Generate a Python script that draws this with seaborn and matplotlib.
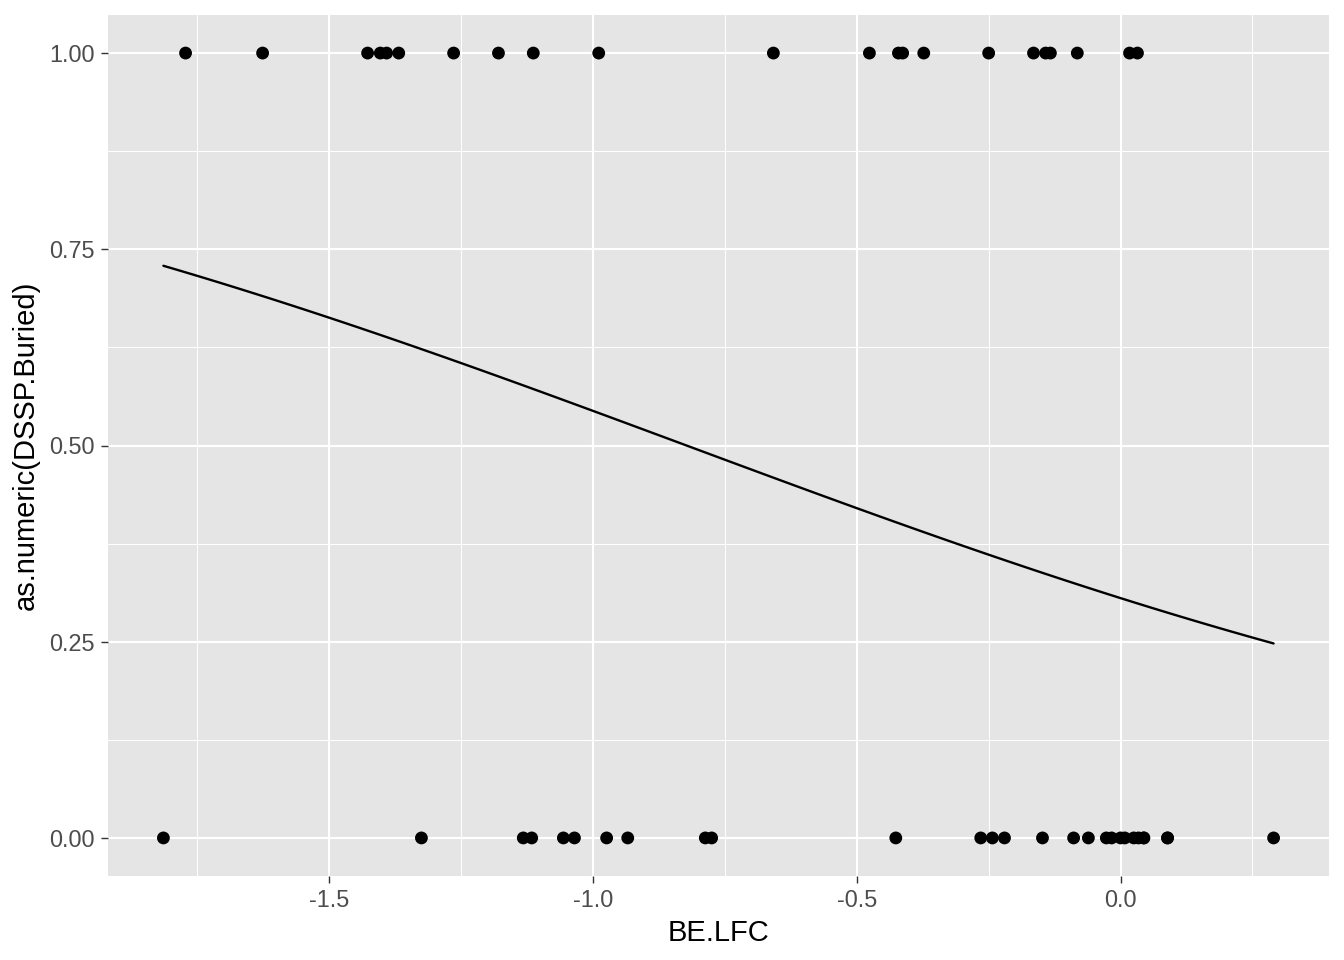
import numpy as np
import pandas as pd
import matplotlib
matplotlib.use("Agg")
import matplotlib.pyplot as plt
import seaborn as sns

# Data (exact overlaps in the dense clusters included)
buried_x = [-1.772, -1.626, -1.427, -1.403, -1.391, -1.368, -1.264, -1.179, -1.113, -0.989,
            -0.658, -0.476, -0.421, -0.413, -0.373, -0.250, -0.165, -0.142, -0.133, -0.082,
            0.017, 0.032]
exposed_x = [-1.814, -1.325, -1.132, -1.116, -1.056, -1.035, -0.974, -0.934, -0.787, -0.775,
             -0.426, -0.265, -0.243, -0.220, -0.148, -0.089, -0.061, -0.027, -0.017, 0.000,
             0.008, 0.025, 0.034, 0.044, 0.044, 0.089, 0.089, 0.290]
x_ticks = [-1.5, -1.0, -0.5, 0.0]
x_tick_labels = ["-1.5", "-1.0", "-0.5", "0.0"]
y_ticks = [0.0, 0.25, 0.5, 0.75, 1.0]
y_tick_labels = ["0.00", "0.25", "0.50", "0.75", "1.00"]

df = pd.DataFrame({
    "BE.LFC": buried_x + exposed_x,
    "y": [1.0] * len(buried_x) + [0.0] * len(exposed_x),
})

# Logistic regression fit (binomial GLM via IRLS), like geom_smooth(method="glm")
X = np.column_stack([np.ones(len(df)), df["BE.LFC"].values])
yv = df["y"].values
beta = np.zeros(2)
for _ in range(50):
    eta = X @ beta
    mu = 1 / (1 + np.exp(-eta))
    W = mu * (1 - mu)
    z = eta + (yv - mu) / W
    beta = np.linalg.solve(X.T @ (W[:, None] * X), X.T @ (W * z))
xs = np.linspace(df["BE.LFC"].min(), df["BE.LFC"].max(), 80)
fit = pd.DataFrame({"BE.LFC": xs, "y": 1 / (1 + np.exp(-(beta[0] + beta[1] * xs)))})

sns.set_theme(style="darkgrid")
plt.rcParams["font.family"] = ["Liberation Sans", "DejaVu Sans"]

fig = plt.figure(figsize=(13.44, 9.6), dpi=100)
ax = fig.add_axes([108 / 1344, 84 / 960, (1329 - 108) / 1344, (876 - 15) / 960])
ax.set_facecolor("#E5E5E5")

sns.scatterplot(data=df, x="BE.LFC", y="y", ax=ax, color="black", s=85,
                edgecolor="none", linewidth=0, zorder=3)
sns.lineplot(data=fit, x="BE.LFC", y="y", ax=ax, color="black", linewidth=1.7, zorder=4)

ax.set_xlim(-1.919, 0.395)
ax.set_ylim(-0.0485, 1.0485)
ax.set_xticks(x_ticks)
ax.set_xticklabels(x_tick_labels)
ax.set_yticks(y_ticks)
ax.set_yticklabels(y_tick_labels)
ax.set_xticks([-1.75, -1.25, -0.75, -0.25, 0.25], minor=True)
ax.set_yticks([0.125, 0.375, 0.625, 0.875], minor=True)

ax.grid(which="major", color="white", linewidth=1.5)
ax.grid(which="minor", color="white", linewidth=0.75)
ax.set_axisbelow(True)
for sp in ax.spines.values():
    sp.set_visible(False)

ax.tick_params(which="major", length=5.3, width=1.0, color="#333333",
               labelsize=16.9, labelcolor="#4D4D4D", pad=4.2, bottom=True, left=True)
ax.tick_params(which="minor", length=0, bottom=False, left=False)

ax.set_xlabel("BE.LFC", fontsize=21, color="black", labelpad=5)
ax.set_ylabel("as.numeric(DSSP.Buried)", fontsize=21, color="black", labelpad=7)

fig.savefig("out.png", dpi=100)
